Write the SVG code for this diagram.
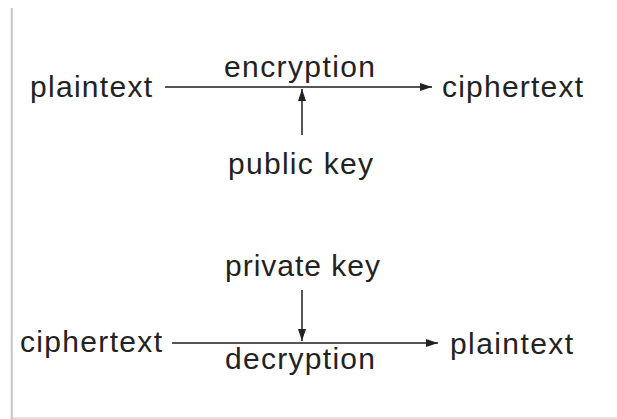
<svg xmlns="http://www.w3.org/2000/svg" width="617" height="419" viewBox="0 0 617 419">
<style>
.t{font-family:"Liberation Sans",Arial,sans-serif;font-size:30px;fill:#222}
.c{stroke:#555;stroke-width:2;fill:none}
</style>
<defs>
<marker id="ah" viewBox="0 0 12 8" refX="12" refY="4" markerWidth="12" markerHeight="8" markerUnits="userSpaceOnUse" orient="auto">
<path d="M0,0 L12,4 L0,8 Z" fill="#222"/>
</marker>
</defs>
<rect width="617" height="419" fill="#fff"/>
<g id="frame">
<line x1="11" y1="8" x2="11" y2="419" stroke="#ddd" stroke-width="1"/>
<line x1="12" y1="8" x2="12" y2="419" stroke="#b0b0b0" stroke-width="1.2"/>
<line x1="12" y1="418" x2="617" y2="418" stroke="#c8c8c8" stroke-width="1.2"/>
</g>
<g id="connectors">
<line class="c" x1="165" y1="87" x2="432" y2="87" marker-end="url(#ah)"/>
<line class="c" x1="302" y1="135" x2="302" y2="89" marker-end="url(#ah)"/>
<line class="c" x1="302" y1="290" x2="302" y2="341" marker-end="url(#ah)"/>
<line class="c" x1="172" y1="343" x2="438" y2="343" marker-end="url(#ah)"/>
</g>
<g id="plaintext1"><text class="t" x="30" y="97" textLength="122" lengthAdjust="spacing">plaintext</text></g>
<g id="encryption"><text class="t" x="224" y="77" textLength="151" lengthAdjust="spacing">encryption</text></g>
<g id="ciphertext1"><text class="t" x="442" y="97" textLength="141" lengthAdjust="spacing">ciphertext</text></g>
<g id="publickey"><text class="t" x="228" y="174" textLength="145" lengthAdjust="spacing">public key</text></g>
<g id="privatekey"><text class="t" x="225" y="276" textLength="155" lengthAdjust="spacing">private key</text></g>
<g id="ciphertext2"><text class="t" x="20" y="352" textLength="142" lengthAdjust="spacing">ciphertext</text></g>
<g id="decryption"><text class="t" x="225" y="369" textLength="150" lengthAdjust="spacing">decryption</text></g>
<g id="plaintext2"><text class="t" x="450" y="354" textLength="123" lengthAdjust="spacing">plaintext</text></g>
</svg>
